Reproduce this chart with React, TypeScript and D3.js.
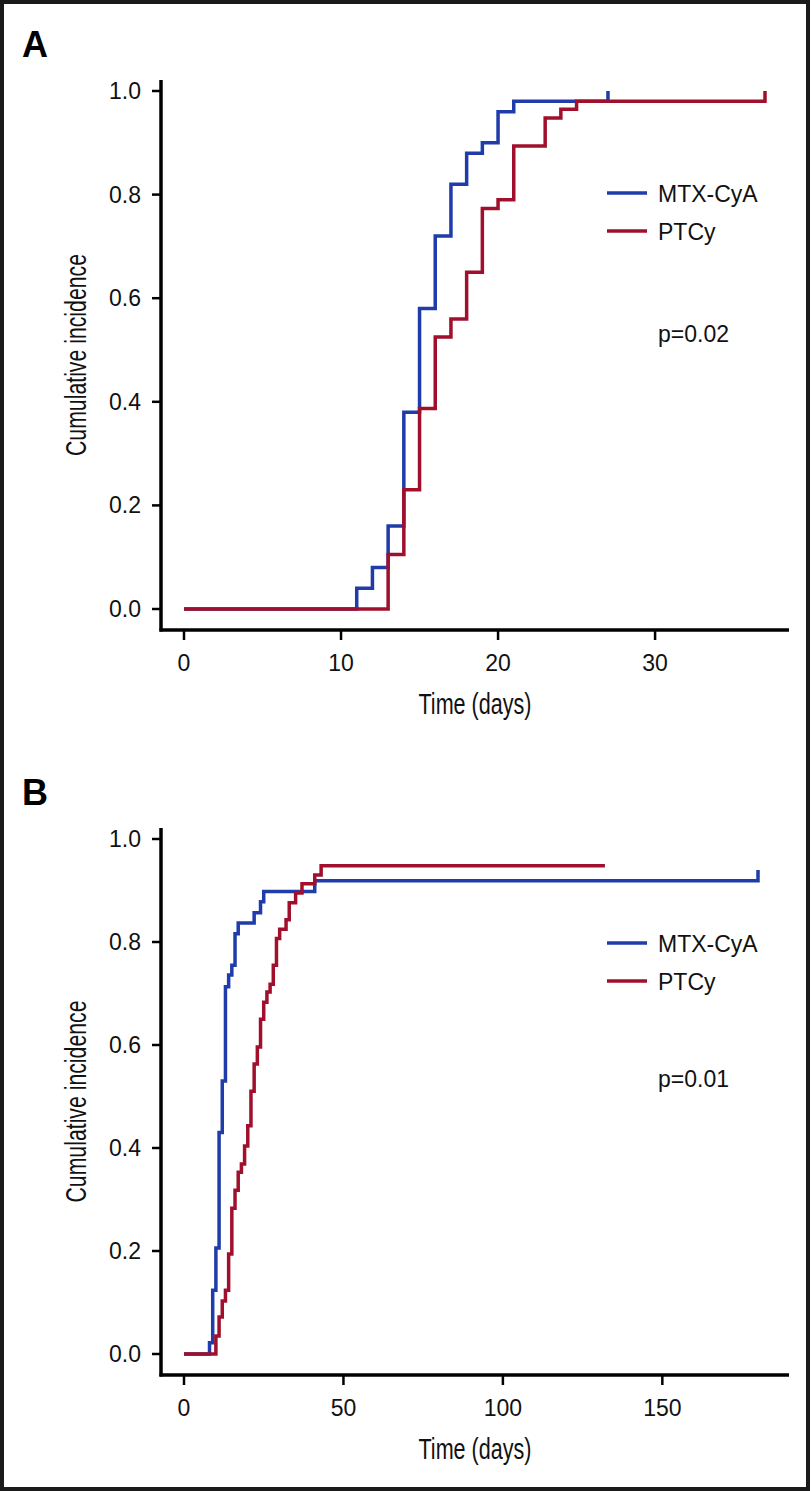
import React from "react";
import * as d3 from "d3";

// Panel A: time (days) and cumulative incidence
const aBlueTimes = [0, 11, 12, 13, 14, 15, 16, 17, 18, 19, 20, 21, 27];
const aBlueValues = [0, 0.04, 0.08, 0.16, 0.38, 0.58, 0.72, 0.82, 0.88, 0.9, 0.96, 0.98, 1.0];
const aRedTimes = [0, 13, 14, 15, 16, 17, 18, 19, 20, 21, 23, 24, 25, 37];
const aRedValues = [0, 0.105, 0.23, 0.387, 0.525, 0.56, 0.65, 0.773, 0.79, 0.894, 0.948, 0.965, 0.98, 1.0];

// Panel B
const bBlueTimes = [0, 8, 9, 10, 11, 12, 13, 14, 15, 16, 17, 22, 24, 25, 41, 180];
const bBlueValues = [0, 0.022, 0.124, 0.206, 0.43, 0.53, 0.713, 0.736, 0.755, 0.816, 0.837, 0.857, 0.878, 0.898, 0.919, 0.94];
const bRedTimes = [0, 10, 11, 12, 13, 14, 15, 16, 17, 18, 19, 20, 21, 22, 23, 24, 25, 26, 27, 28, 29, 30, 32, 33, 35, 37, 41, 43, 132];
const bRedValues = [0, 0.035, 0.072, 0.103, 0.124, 0.194, 0.283, 0.318, 0.353, 0.369, 0.404, 0.443, 0.51, 0.563, 0.596, 0.65, 0.683, 0.703, 0.718, 0.755, 0.807, 0.825, 0.843, 0.876, 0.895, 0.913, 0.93, 0.948, 0.948];

const aXTicks = [0, 10, 20, 30];
const bXTicks = [0, 50, 100, 150];
const yTicks = [0, 0.2, 0.4, 0.6, 0.8, 1.0];
const seriesNames = ["MTX-CyA", "PTCy"];
const pValues = ["p=0.02", "p=0.01"];
const panelLetters = ["A", "B"];

const BLUE = "#1f3caa";
const RED = "#a0102c";
const FONT = "'Liberation Sans', Arial, Helvetica, sans-serif";

type PanelProps = {
  letter: string;
  top: number; // y of the 1.0 tick
  bottom: number; // y of the 0.0 tick
  xMax: number;
  xMaxPx: number;
  xTicks: number[];
  blueT: number[];
  blueV: number[];
  redT: number[];
  redV: number[];
  pText: string;
  letterY: number;
  legendY: number;
  pY: number;
};

function Panel(p: PanelProps) {
  const x = d3.scaleLinear().domain([0, p.xMax]).range([184, p.xMaxPx]);
  const y = d3.scaleLinear().domain([0, 1]).range([p.bottom, p.top]);
  const axisY = p.bottom + 21;
  const axisX = 161;
  const line = d3
    .line<[number, number]>()
    .x((d) => x(d[0]))
    .y((d) => y(d[1]))
    .curve(d3.curveStepAfter);
  const blue = line(p.blueT.map((t, i) => [t, p.blueV[i]] as [number, number])) || "";
  const red = line(p.redT.map((t, i) => [t, p.redV[i]] as [number, number])) || "";
  const midY = (p.top + p.bottom) / 2 + 5;
  return (
    <g>
      <text x={22} y={p.letterY} fontFamily={FONT} fontWeight="bold" fontSize={36} fill="#000">
        {p.letter}
      </text>
      {/* y axis */}
      <line x1={axisX} x2={axisX} y1={p.top - 11} y2={axisY + 1.5} stroke="#000" strokeWidth={3.5} />
      {yTicks.map((t) => (
        <g key={t}>
          <line x1={axisX - 9} x2={axisX} y1={y(t)} y2={y(t)} stroke="#000" strokeWidth={2.5} />
          <text x={141} y={y(t) + 8} textAnchor="end" fontFamily={FONT} fontSize={23} fill="#111">
            {t.toFixed(1)}
          </text>
        </g>
      ))}
      {/* x axis */}
      <line x1={axisX - 1.5} x2={789} y1={axisY} y2={axisY} stroke="#000" strokeWidth={3.5} />
      {p.xTicks.map((t) => (
        <g key={t}>
          <line x1={x(t)} x2={x(t)} y1={axisY} y2={axisY + 10} stroke="#000" strokeWidth={2.5} />
          <text x={x(t)} y={axisY + 41} textAnchor="middle" fontFamily={FONT} fontSize={23} fill="#111">
            {t}
          </text>
        </g>
      ))}
      <text
        x={475}
        y={axisY + 84}
        textAnchor="middle"
        fontFamily={FONT}
        fontSize={29}
        textLength={113}
        lengthAdjust="spacingAndGlyphs"
        fill="#111"
      >
        Time (days)
      </text>
      <text
        transform={`translate(${86},${midY}) rotate(-90)`}
        textAnchor="middle"
        fontFamily={FONT}
        fontSize={29}
        textLength={202}
        lengthAdjust="spacingAndGlyphs"
        fill="#111"
      >
        Cumulative incidence
      </text>
      {/* curves */}
      <path d={blue} fill="none" stroke={BLUE} strokeWidth={3.5} />
      <path d={red} fill="none" stroke={RED} strokeWidth={3.5} />
      {/* legend */}
      <line x1={607} x2={647} y1={p.legendY} y2={p.legendY} stroke={BLUE} strokeWidth={3.5} />
      <line x1={607} x2={647} y1={p.legendY + 38} y2={p.legendY + 38} stroke={RED} strokeWidth={3.5} />
      <text x={658} y={p.legendY + 8.5} fontFamily={FONT} fontSize={23} fill="#111">
        {seriesNames[0]}
      </text>
      <text x={658} y={p.legendY + 46.5} fontFamily={FONT} fontSize={23} fill="#111">
        {seriesNames[1]}
      </text>
      <text x={658} y={p.pY} fontFamily={FONT} fontSize={23} fill="#111">
        {p.pText}
      </text>
    </g>
  );
}

export default function App() {
  return (
    <svg
      width={812}
      height={1491}
      style={{ position: "absolute", left: 0, top: 0, background: "#fff" }}
    >
      <rect x={0} y={0} width={812} height={1491} fill="#fff" />
      <rect x={2} y={2} width={806} height={1487} fill="none" stroke="#1a1a1a" strokeWidth={4} />
      <Panel
        letter={panelLetters[0]}
        top={91}
        bottom={609}
        xMax={37}
        xMaxPx={765}
        xTicks={aXTicks}
        blueT={aBlueTimes}
        blueV={aBlueValues}
        redT={aRedTimes}
        redV={aRedValues}
        pText={pValues[0]}
        letterY={57}
        legendY={193}
        pY={342}
      />
      <Panel
        letter={panelLetters[1]}
        top={839}
        bottom={1354}
        xMax={180}
        xMaxPx={758}
        xTicks={bXTicks}
        blueT={bBlueTimes}
        blueV={bBlueValues}
        redT={bRedTimes}
        redV={bRedValues}
        pText={pValues[1]}
        letterY={805}
        legendY={943}
        pY={1087}
      />
    </svg>
  );
}
